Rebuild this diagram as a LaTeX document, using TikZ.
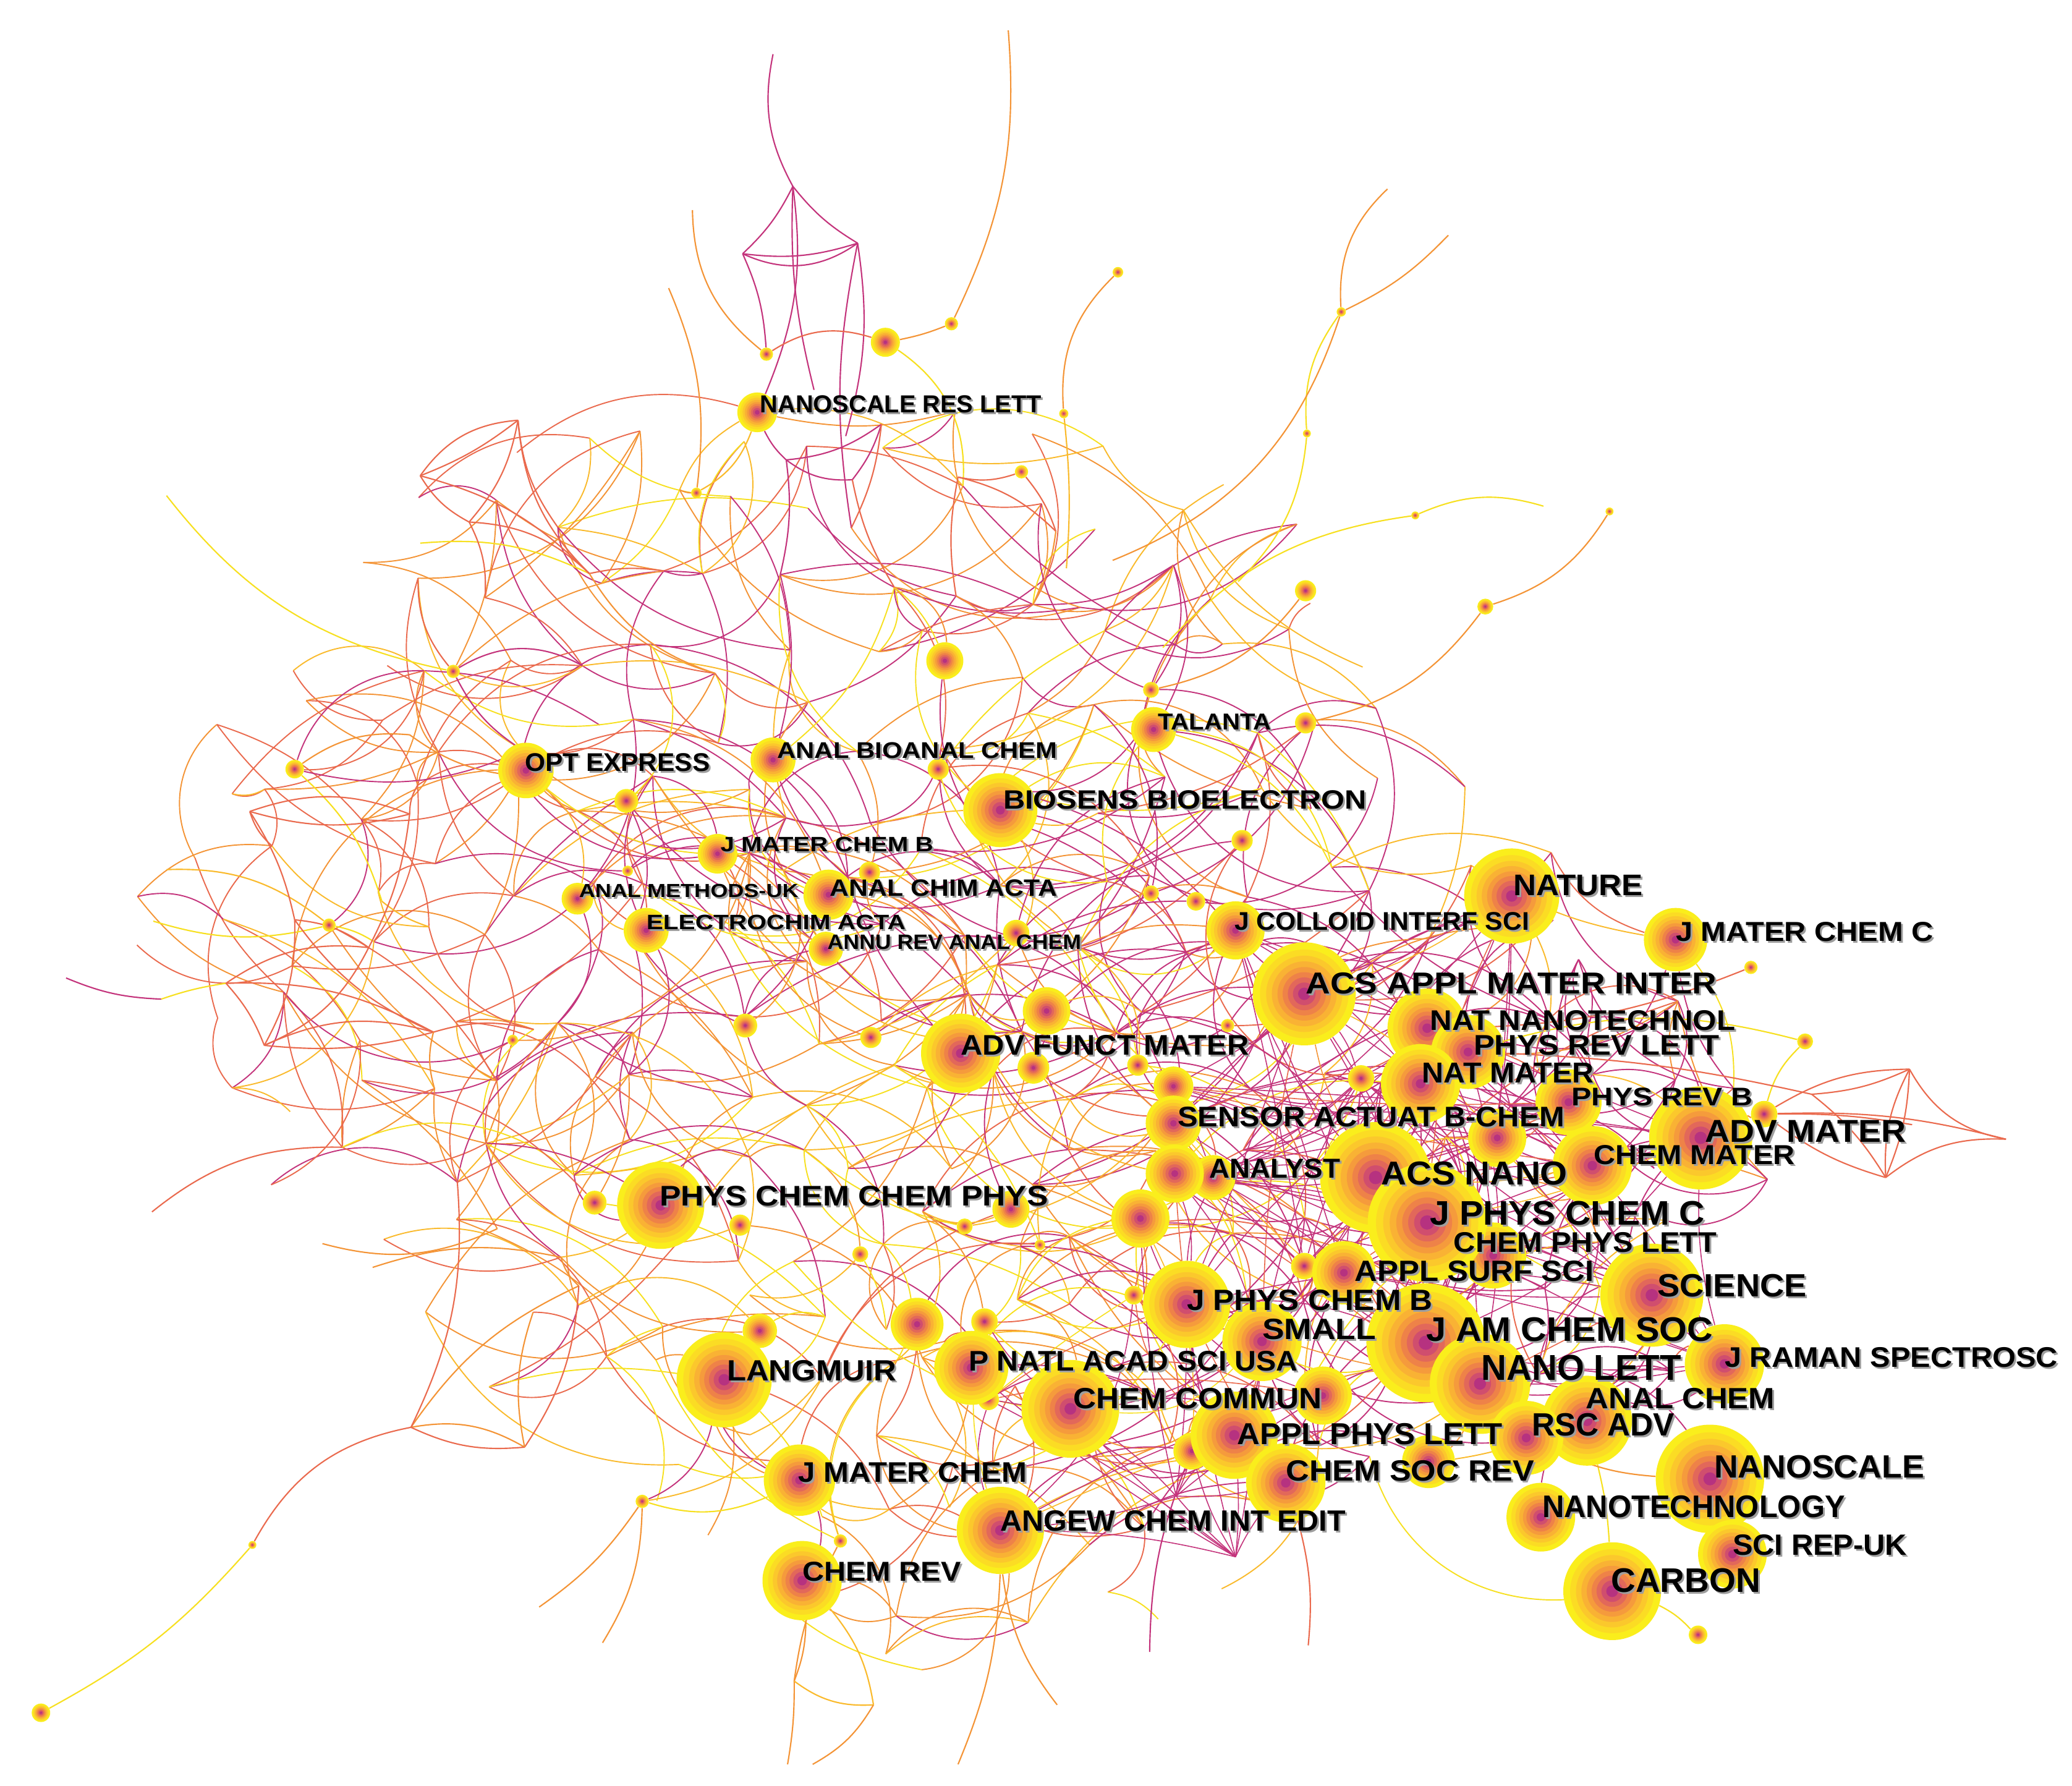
\documentclass[tikz,border=0pt]{standalone}
\usepackage{fontspec}
\setmainfont{Liberation Sans}
\usepackage{graphicx}
\definecolor{e0}{RGB}{196,52,124}
\definecolor{e1}{RGB}{234,106,78}
\definecolor{e2}{RGB}{244,148,54}
\definecolor{e3}{RGB}{250,186,44}
\definecolor{e4}{RGB}{247,224,32}
\definecolor{k0}{RGB}{250,238,28}
\definecolor{k1}{RGB}{251,220,36}
\definecolor{k2}{RGB}{251,200,44}
\definecolor{k3}{RGB}{249,178,52}
\definecolor{k4}{RGB}{245,155,60}
\definecolor{k5}{RGB}{238,130,72}
\definecolor{k6}{RGB}{226,104,90}
\definecolor{k7}{RGB}{208,78,110}
\definecolor{k8}{RGB}{182,50,128}
\def\cminarr{{5,4,3,2,1,1,0,0,1,1,2,3,4,5,6,7,8,9}}
\def\cmaxarr{{13,16,17,17,17,18,19,20,21,22,22,21,21,21,17,16,15,12}}
\def\thrA{{10,8,45,12,65}}
\def\thrB{{35,60,57,30,77}}
\def\thrC{{65,85,77,60,87}}
\def\thrD{{85,93,88,80,93}}
\newcommand\zoneof[2]{%
  \pgfmathtruncatemacro\zxx{110+55*(#2)}%
  \pgfmathtruncatemacro\zyy{330+55*(#1)}%
  \pgfmathtruncatemacro\zn{((\zxx>930)&&(\zyy>640)&&(\zyy<1130)) ? 4 : ((\zyy<430) ? 0 : ((\zxx<420) ? 1 : ((\zyy<780) ? 2 : 3)))}%
}
\newcommand\gridedges[4]{%
  \zoneof{#2}{#3}%
  \foreach \kk in {1,...,#4}{%
    \pgfmathrandominteger{\drr}{-2}{2}%
    \pgfmathrandominteger{\dcc}{-3}{3}%
    \pgfmathtruncatemacro\rrt{(#2)+(\drr)}%
    \pgfmathtruncatemacro\cct{(#3)+(\dcc)}%
    \pgfmathtruncatemacro\rrc{min(max(\rrt,0),17)}%
    \pgfmathtruncatemacro\cmn{\cminarr[\rrc]}%
    \pgfmathtruncatemacro\cmx{\cmaxarr[\rrc]}%
    \pgfmathtruncatemacro\okk{((\rrt==\rrc)&&(\cct>=\cmn)&&(\cct<=\cmx)&&((\drr!=0)||(\dcc!=0)))?1:0}%
    \ifnum\okk=1
      \pgfmathrandominteger{\bnd}{12}{42}%
      \pgfmathrandominteger{\sgn}{0}{1}%
      \ifnum\sgn=1 \edef\bnd{-\bnd}\fi
      \pgfmathrandominteger{\crand}{1}{100}%
      \pgfmathtruncatemacro\ci{(\crand>\thrA[\zn])+(\crand>\thrB[\zn])+(\crand>\thrC[\zn])+(\crand>\thrD[\zn])}%
      \draw[lnk,e\ci] (#1) to[bend left=\bnd] (g-\rrt-\cct);%
    \fi
  }%
}
\def\bignodes{%
NRL/573/312/15,TAL/873/552/17,OPT/398/583/21,ABC/585/575/17,BIO/757/613/28,%
JMCB/543/646/15,AMU/437/680/12,ACA/627/677/19,ELA/489/704/17,ARAC/625/718/13,%
JCIS/935/704/22,NAT/1144/678/36,JMCC/1268/711/24,AAMI/987/752/39,NNT/1080/778/30,%
PRL/1111/796/28,AFM/727/797/30,NMAT/1075/820/30,PRB/1187/834/25,SAB/888/850/21,%
ADVM/1287/861/39,CMAT/1205/882/30,ANLY/889/888/22,ACSN/1041/891/42,PCCP/500/912/33,%
JPCC/1080/925/45,APSS/1017/963/24,SCI/1250/980/39,JPCB/898/987/33,SMALL/955/1015/30,%
JACS/1079/1016/45,LANG/548/1044/36,PNAS/735/1035/28,NL/1120/1047/38,JRS/1305/1032/30,%
CC/810/1066/37,ACH/1201/1075/34,RSC/1155/1088/28,APL/934/1086/33,NS/1294/1119/41,%
JMC/605/1120/27,CSR/973/1122/30,NT/1166/1148/26,ACIE/757/1158/33,SRU/1311/1176/26,%
CR/607/1196/30,CARB/1220/1204/37%
}
\def\webdots{%
d5/343/508/5,d6/223/582/7,d7/474/606/9,d8/715/500/14,d12/871/522/6,%
d21/486/1136/5,d22/636/1166/5,d27/450/910/9,d28/560/927/8,d29/651/949/6,%
d30/730/928/6,d31/765/915/14,d32/787/942/4,d33/575/1007/13,d34/694/1002/20,%
d35/745/1000/10,d36/748/1059/8,d37/863/922/22,d38/858/980/7,d39/1001/1056/22,%
d40/902/1098/14,d41/1081/1106/20,d42/1030/816/10,d43/888/822/15,d44/861/806/8,%
d45/782/808/12,d46/792/765/18,d47/659/785/8,d48/564/776/9,d49/710/582/8,%
d50/940/636/8,d51/658/660/8,d52/871/676/6,d53/905/682/7,d54/769/706/10,%
d55/929/776/5,d56/249/700/5,d57/475/659/4,d58/388/787/4,d59/1133/861/22,%
d60/987/958/10,d61/918/891/17,d63/1130/950/25%
}
\def\perdots{%
d1/670/259/11,d2/720/245/5,d3/580/268/5,d4/527/373/4,d9/988/447/8,%
d10/1124/459/6,d11/988/547/8,d13/846/206/4,d14/805/313/3.5,d15/1015/236/3.5,%
d16/989/328/3,d17/1071/390/3,d18/1218/387/3,d19/31/1296/7,d20/191/1169/3,%
d23/1285/1237/7,d24/1366/788/6,d25/1325/732/5,d26/1335/843/10,d62/773/357/5%
}
\def\labels{%
NANOSCALE RES LETT/575/306/213/13,%
TALANTA/876/546/86/12,%
OPT EXPRESS/397/577/140/13.5,%
ANAL BIOANAL CHEM/588/568/212/12,%
BIOSENS BIOELECTRON/759/605/275/14,%
J MATER CHEM B/545/639/161/11,%
ANAL METHODS-UK/438/674/166/10,%
ANAL CHIM ACTA/628/672/172/12.5,%
ELECTROCHIM ACTA/489/698/196/11,%
ANNU REV ANAL CHEM/626/713/192/11,%
J COLLOID INTERF SCI/934/697/223/13.5,%
NATURE/1145/670/98/15.5,%
J MATER CHEM C/1268/705/195/14.5,%
ACS APPL MATER INTER/988/744/311/16,%
NAT NANOTECHNOL/1082/772/231/15,%
PHYS REV LETT/1115/791/186/15,%
ADV FUNCT MATER/727/791/218/15,%
NAT MATER/1076/812/130/15,%
PHYS REV B/1189/830/137/13.5,%
SENSOR ACTUAT B-CHEM/891/845/293/15,%
ADV MATER/1290/856/152/16.5,%
CHEM MATER/1206/874/152/14.5,%
ANALYST/915/884/99/14.5,%
ACS NANO/1045/888/141/17.5,%
PHYS CHEM CHEM PHYS/499/905/294/15,%
J PHYS CHEM C/1082/918/208/18,%
CHEM PHYS LETT/1100/940/199/15,%
APPL SURF SCI/1025/962/181/15.5,%
SCIENCE/1254/973/113/17,%
J PHYS CHEM B/898/984/186/15.5,%
SMALL/955/1006/86/15.5,%
J AM CHEM SOC/1079/1006/217/18,%
LANGMUIR/550/1037/128/15.5,%
P NATL ACAD SCI USA/733/1030/249/15,%
NANO LETT/1121/1035/151/19,%
J RAMAN SPECTROSC/1305/1027/252/15,%
CHEM COMMUN/812/1058/188/15.5,%
ANAL CHEM/1200/1058/143/15.5,%
RSC ADV/1159/1078/108/17,%
APPL PHYS LETT/936/1085/201/16,%
NANOSCALE/1297/1110/159/17,%
J MATER CHEM/604/1114/173/15,%
CHEM SOC REV/973/1113/188/15.5,%
NANOTECHNOLOGY/1167/1140/229/16.5,%
ANGEW CHEM INT EDIT/757/1151/261/15.5,%
SCI REP-UK/1311/1169/132/15.5,%
CHEM REV/607/1189/120/14.5,%
CARBON/1219/1196/113/18%
}
\def\rmesh{NAT,AAMI,NNT,PRL,NMAT,PRB,SAB,ADVM,CMAT,ANLY,ACSN,JPCC,APSS,SCI,JPCB,SMALL,JACS,NL,d42,d59,JCIS,d63,JRS,d61,d60,d43}
\def\lmesh{CC,ACIE,APL,CSR,d40,PNAS,SMALL,JPCB,d39,d37,d38,d36,d35,d34}
\tikzset{
  lnk/.style={line width=0.9pt},
  tnd/.style={line width=1pt},
  msh/.style={line width=0.75pt},
  pt/.style={circle,inner sep=0pt,draw=none}
}
\begin{document}
\begin{tikzpicture}[x=1pt,y=-1pt]
\useasboundingbox (0,0) rectangle (1568,1351);
\fill[white] (0,0) rectangle (1568,1351);
\pgfmathsetseed{4242}
% ---------- invisible node shapes
\foreach \nm/\nx/\ny/\nr in \bignodes {\node[pt,minimum size={2*\nr}] (\nm) at (\nx,\ny) {};}
\foreach \nm/\nx/\ny/\nr in \webdots {\node[pt,minimum size={2*\nr}] (\nm) at (\nx,\ny) {};}
\foreach \nm/\nx/\ny/\nr in \perdots {\node[pt,minimum size={2*\nr}] (\nm) at (\nx,\ny) {};}
% ---------- web grid points
\foreach \gr in {0,...,17}{%
  \pgfmathtruncatemacro\cmnA{\cminarr[\gr]}%
  \pgfmathtruncatemacro\cmxA{\cmaxarr[\gr]}%
  \foreach \gc in {\cmnA,...,\cmxA}{%
    \pgfmathsetmacro\jx{110+55*\gc+20*rand}%
    \pgfmathsetmacro\jy{330+55*\gr+20*rand}%
    \coordinate (g-\gr-\gc) at (\jx,\jy);
  }%
}
% free ends and fan vertices
\coordinate (tA) at (585,41);  \coordinate (fA1) at (600,141);
\coordinate (fA2) at (562,192); \coordinate (fA3) at (649,184);
\coordinate (tA3) at (616,295); \coordinate (tA4) at (640,330);
\coordinate (tB) at (763,23);  \coordinate (tC) at (524,159);
\coordinate (tD) at (506,218); \coordinate (tE) at (1050,143);
\coordinate (tF) at (1096,178); \coordinate (tG) at (842,424);
\coordinate (tG2) at (937,440); \coordinate (tH) at (1168,383);
\coordinate (tH2) at (880,490); \coordinate (tS1) at (807,430);
\coordinate (tI) at (126,375); \coordinate (tJ) at (318,411);
\coordinate (fL1) at (318,360); \coordinate (fL2) at (392,318);
\coordinate (fL3) at (355,395); \coordinate (fL4) at (446,434);
\coordinate (fL6) at (310,556); \coordinate (tD6) at (289,682);
\coordinate (tK) at (50,740);  \coordinate (tK2) at (122,756);
\coordinate (tL) at (116,697); \coordinate (tM) at (126,658);
\coordinate (fM1) at (200,791); \coordinate (fM2) at (171,744);
\coordinate (fM3) at (328,781); \coordinate (fM4) at (223,696);
\coordinate (fM5) at (279,717); \coordinate (fM6) at (189,614);
\coordinate (fM7) at (310,616); \coordinate (fB1) at (311,1080);
\coordinate (fB2) at (397,1095); \coordinate (fB3) at (438,973);
\coordinate (tO1) at (115,917); \coordinate (tO2) at (244,941);
\coordinate (tO3) at (282,959); \coordinate (tP) at (408,1216);
\coordinate (tQ) at (456,1243); \coordinate (tR1) at (596,1335);
\coordinate (tR2) at (615,1335); \coordinate (tR3) at (725,1335);
\coordinate (fR1) at (601,1272); \coordinate (fR2) at (661,1290);
\coordinate (fRa) at (1445,809); \coordinate (fRb) at (1518,862);
\coordinate (fRc) at (1427,891); \coordinate (fRd) at (1447,851);
\coordinate (fRe) at (1371,828); \coordinate (fP1) at (667,321);
\coordinate (fP2) at (595,348); \coordinate (fP3) at (645,363);
\coordinate (fQ1) at (725,361); \coordinate (fQ3) at (799,402);
\coordinate (tU1) at (870,1250); \coordinate (tU2) at (990,1245);
\coordinate (tU3) at (800,1290);
\coordinate (hV) at (935,1178); \coordinate (hW) at (890,1132);
% ---------- random web
\foreach \gr in {0,...,17}{%
  \pgfmathtruncatemacro\cmnA{\cminarr[\gr]}%
  \pgfmathtruncatemacro\cmxA{\cmaxarr[\gr]}%
  \foreach \gc in {\cmnA,...,\cmxA}{%
    \pgfmathtruncatemacro\xx{110+55*\gc}%
    \pgfmathtruncatemacro\yy{330+55*\gr}%
    \pgfmathtruncatemacro\core{(((\xx>=330)&&(\xx<=950)&&(\yy>=430)&&(\yy<=960))||((\xx>930)&&(\yy>640)&&(\yy<1080)))?1:0}%
    \pgfmathtruncatemacro\lft{((\xx<330)&&(\yy>=540)&&(\yy<=960))?1:0}%
    \pgfmathrandominteger{\extra}{0}{1}%
    \pgfmathrandominteger{\extrb}{0}{1}%
    \pgfmathtruncatemacro\nedge{1+\core+\lft+\extra+\core*\extrb}%
    \gridedges{g-\gr-\gc}{\gr}{\gc}{\nedge}%
  }%
}
\foreach \nm/\nx/\ny/\nr in \bignodes {%
  \pgfmathtruncatemacro\rzero{min(max(round((\ny-330)/55),0),17)}%
  \pgfmathtruncatemacro\czero{round((\nx-110)/55)}%
  \gridedges{\nm}{\rzero}{\czero}{5}%
}
\foreach \nm/\nx/\ny/\nr in \webdots {%
  \pgfmathtruncatemacro\rzero{min(max(round((\ny-330)/55),0),17)}%
  \pgfmathtruncatemacro\czero{round((\nx-110)/55)}%
  \gridedges{\nm}{\rzero}{\czero}{3}%
}
% ---------- right cluster mesh
\foreach \ma [count=\ia] in \rmesh {%
  \foreach \mb [count=\ib] in \rmesh {%
    \ifnum\ia<\ib
      \pgfmathrandominteger{\pr}{1}{100}%
      \ifnum\pr<38
        \pgfmathrandominteger{\bnd}{-12}{12}%
        \pgfmathrandominteger{\crand}{1}{100}%
        \pgfmathtruncatemacro\ci{(\crand>80)+(\crand>88)+(\crand>94)}%
        \draw[msh,e\ci] (\ma) to[bend left=\bnd] (\mb);
      \fi
    \fi
  }%
}
\foreach \ma [count=\ia] in \lmesh {%
  \foreach \mb [count=\ib] in \lmesh {%
    \ifnum\ia<\ib
      \pgfmathrandominteger{\pr}{1}{100}%
      \ifnum\pr<22
        \pgfmathrandominteger{\bnd}{-25}{25}%
        \pgfmathrandominteger{\crand}{1}{100}%
        \pgfmathtruncatemacro\ci{(\crand>50)+(\crand>65)+(\crand>82)+(\crand>92)}%
        \draw[msh,e\ci] (\ma) to[bend left=\bnd] (\mb);
      \fi
    \fi
  }%
}
\foreach \tg/\bd in {CC/6,APL/-4,d40/8,CSR/5,ACIE/-6,hW/4,SMALL/-3,PNAS/5,d36/-5,JPCB/3}
  {\draw[msh,e0] (hV) to[bend left=\bd] (\tg);}
\foreach \tg/\bd in {CC/-5,APL/6,d40/-4,CSR/-6,ACIE/5,d39/4,JPCB/-3,d37/5}
  {\draw[msh,e0] (hW) to[bend left=\bd] (\tg);}
% ---------- tendrils and fans
\draw[tnd,e0] (tA) to[bend left=-20] (fA1);
\draw[tnd,e0] (fA1) to[bend left=10] (fA2);
\draw[tnd,e0] (fA1) to[bend left=-10] (fA3);
\draw[tnd,e0] (fA2) to[bend left=-12] (fA3);
\draw[tnd,e0] (fA2) to[bend left=-30] (fA3);
\draw[tnd,e0] (fA2) to[bend left=10] (d3);
\draw[tnd,e0] (fA1) to[bend left=-8] (tA3);
\draw[tnd,e0] (fA3) to[bend left=12] (tA4);
\draw[tnd,e0] (fA3) to[bend left=-10] (g-1-10);
\draw[tnd,e0] (fA1) to[bend left=15] (NRL);
\draw[tnd,e2] (tB) to[bend left=15] (d2);
\draw[tnd,e2] (tC) to[bend left=-25] (d3);
\draw[tnd,e2] (tD) to[bend left=15] (d4);
\draw[tnd,e2] (d13) to[bend left=-25] (d14);
\draw[tnd,e3] (d14) to[bend left=5] (tS1);
\draw[tnd,e2] (tE) to[bend left=-25] (d15);
\draw[tnd,e2] (tF) to[bend left=10] (d15);
\draw[tnd,e4] (d15) to[bend left=-20] (d16);
\draw[tnd,e2] (d15) to[bend left=25] (tG);
\draw[tnd,e4] (d16) to[bend left=20] (tG2);
\draw[tnd,e4] (tH) to[bend left=-20] (d17);
\draw[tnd,e4] (d17) to[bend left=-20] (tH2);
\draw[tnd,e2] (d18) to[bend left=20] (d10);
\draw[tnd,e2] (d10) to[bend left=20] (d11);
\draw[tnd,e2] (d9) to[bend left=20] (d12);
\draw[tnd,e1] (d3) to[bend left=25] (d1);
\draw[tnd,e2] (d2) to[bend left=5] (d1);
\draw[tnd,e4] (d1) to[bend left=30] (g-1-11);
\draw[tnd,e3] (NRL) to[bend left=20] (d4);
\draw[tnd,e2] (d4) to[bend left=10] (g-1-7);
\draw[tnd,e0] (fP1) to[bend left=15] (fP2);
\draw[tnd,e0] (fP2) to[bend left=-20] (fP3);
\draw[tnd,e0] (fP1) to[bend left=10] (fP3);
\draw[tnd,e0] (fP2) to[bend left=10] (g-2-9);
\draw[tnd,e1] (fP3) to[bend left=-10] (g-2-10);
\draw[tnd,e1] (fP1) to[bend left=10] (g-1-10);
\draw[tnd,e0] (NRL) to[bend left=-10] (fP2);
\draw[tnd,e1] (fQ1) to[bend left=-15] (d62);
\draw[tnd,e1] (fQ1) to[bend left=15] (fQ3);
\draw[tnd,e1] (d62) to[bend left=10] (fQ3);
\draw[tnd,e1] (fQ1) to[bend left=-10] (g-2-11);
\draw[tnd,e2] (fQ3) to[bend left=10] (g-2-12);
\draw[tnd,e4] (tI) to[bend left=-20] (d5);
\draw[tnd,e4] (tJ) to[bend left=15] (fL4);
\draw[tnd,e1] (fL1) to[bend left=25] (fL2);
\draw[tnd,e1] (fL1) to[bend left=-8] (fL2);
\draw[tnd,e1] (fL2) to[bend left=15] (fL3);
\draw[tnd,e1] (fL1) to[bend left=-15] (fL3);
\draw[tnd,e1] (fL3) to[bend left=20] (fL4);
\draw[tnd,e1] (fL2) to[bend left=-20] (fL4);
\draw[tnd,e1] (fL1) to[bend left=15] (fL4);
\draw[tnd,e1] (fL4) to[bend left=10] (g-2-7);
\draw[tnd,e1] (fL2) to[bend left=-15] (g-1-6);
\draw[tnd,e1] (fL3) to[bend left=15] (g-2-5);
\draw[tnd,e2] (fL4) to[bend left=-20] (g-3-8);
\draw[tnd,e0] (d5) to[bend left=30] (g-3-6);
\draw[tnd,e0] (d5) to[bend left=-15] (g-4-5);
\draw[tnd,e1] (d5) to[bend left=20] (g-2-4);
\draw[tnd,e2] (d6) to[bend left=20] (fL6);
\draw[tnd,e2] (fL6) to[bend left=-15] (g-5-5);
\draw[tnd,e4] (d6) to[bend left=15] (tD6);
\draw[tnd,e3] (tD6) to[bend left=-10] (g-7-4);
\draw[tnd,e0] (tK) to[bend left=-10] (tK2);
\draw[tnd,e4] (tK2) to[bend left=5] (fM2);
\draw[tnd,e4] (tL) to[bend left=-15] (d56);
\draw[tnd,e3] (tM) to[bend left=20] (d56);
\draw[tnd,e4] (d56) to[bend left=10] (g-7-3);
\draw[tnd,e1] (fM2) to[bend left=10] (fM1);
\draw[tnd,e1] (fM1) to[bend left=20] (fM3);
\draw[tnd,e1] (fM1) to[bend left=-10] (fM3);
\draw[tnd,e1] (fM2) to[bend left=15] (fM3);
\draw[tnd,e1] (fM4) to[bend left=15] (fM1);
\draw[tnd,e1] (fM4) to[bend left=-15] (fM3);
\draw[tnd,e1] (fM5) to[bend left=20] (fM1);
\draw[tnd,e1] (fM5) to[bend left=-20] (fM2);
\draw[tnd,e1] (fM4) to[bend left=15] (fM5);
\draw[tnd,e1] (fM6) to[bend left=20] (fM7);
\draw[tnd,e1] (fM6) to[bend left=-15] (fM7);
\draw[tnd,e1] (fM6) to[bend left=10] (fM4);
\draw[tnd,e1] (fM7) to[bend left=10] (fM5);
\draw[tnd,e1] (fM3) to[bend left=15] (g-8-5);
\draw[tnd,e2] (fM3) to[bend left=-15] (g-9-4);
\draw[tnd,e1] (fM7) to[bend left=15] (g-5-4);
\draw[tnd,e1] (fM6) to[bend left=-15] (g-6-2);
\draw[tnd,e4] (d19) to[bend left=-10] (d20);
\draw[tnd,e1] (d20) to[bend left=25] (fB1);
\draw[tnd,e2] (fB1) to[bend left=20] (fB2);
\draw[tnd,e1] (fB1) to[bend left=-15] (fB2);
\draw[tnd,e2] (fB1) to[bend left=15] (fB3);
\draw[tnd,e1] (fB2) to[bend left=-15] (fB3);
\draw[tnd,e2] (fB3) to[bend left=15] (g-11-6);
\draw[tnd,e1] (fB1) to[bend left=-15] (g-10-4);
\draw[tnd,e2] (fB2) to[bend left=15] (g-12-5);
\draw[tnd,e1] (tO1) to[bend left=20] (g-10-3);
\draw[tnd,e2] (tO2) to[bend left=-20] (g-11-5);
\draw[tnd,e2] (tO3) to[bend left=15] (g-11-6);
\draw[tnd,e2] (d21) to[bend left=10] (tP);
\draw[tnd,e2] (d21) to[bend left=15] (tQ);
\draw[tnd,e4] (d21) to[bend left=-20] (JMC);
\draw[tnd,e2] (CR) to[bend left=10] (fR1);
\draw[tnd,e2] (fR1) to[bend left=5] (tR1);
\draw[tnd,e3] (fR1) to[bend left=-20] (fR2);
\draw[tnd,e2] (fR2) to[bend left=15] (tR2);
\draw[tnd,e2] (ACIE) to[bend left=10] (tR3);
\draw[tnd,e3] (CR) to[bend left=15] (fR2);
\draw[tnd,e2] (d22) to[bend left=-10] (fR1);
\draw[tnd,e1] (CSR) to[bend left=10] (tU2);
\draw[tnd,e0] (d40) to[bend left=-10] (tU1);
\draw[tnd,e2] (ACIE) to[bend left=-15] (tU3);
\draw[tnd,e1] (NNT) to[bend left=-10] (d25);
\draw[tnd,e4] (d24) to[bend left=-15] (d26);
\draw[tnd,e4] (d24) to[bend left=-15] (PRL);
\draw[tnd,e1] (PRL) to[bend left=5] (fRe);
\draw[tnd,e1] (d26) to[bend left=15] (fRa);
\draw[tnd,e1] (d26) to[bend left=5] (fRd);
\draw[tnd,e1] (d26) to[bend left=8] (fRb);
\draw[tnd,e1] (fRa) to[bend left=-25] (fRb);
\draw[tnd,e1] (fRc) to[bend left=20] (fRb);
\draw[tnd,e1] (fRa) to[bend left=10] (fRc);
\draw[tnd,e1] (fRa) to[bend left=-15] (fRc);
\draw[tnd,e1] (fRe) to[bend left=10] (fRc);
\draw[tnd,e1] (fRe) to[bend left=-10] (fRa);
\draw[tnd,e1] (d26) to[bend left=-10] (fRc);
\draw[tnd,e2] (ADVM) to[bend left=5] (d26);
\draw[tnd,e4] (CARB) to[bend left=10] (d23);
\draw[tnd,e4] (ACH) to[bend left=5] (CARB);
\draw[tnd,e2] (NS) to[bend left=10] (RSC);
% ---------- node discs
\foreach \nm/\nx/\ny/\nr in \perdots {%
  \foreach \fr/\kc in {1/k0,0.86/k1,0.74/k2,0.63/k3,0.52/k4,0.42/k5,0.32/k6,0.22/k7,0.12/k8}%
    {\fill[\kc] (\nm) circle[radius={\fr*\nr}];}%
}
\foreach \nm/\nx/\ny/\nr in \webdots {%
  \foreach \fr/\kc in {1/k0,0.86/k1,0.74/k2,0.63/k3,0.52/k4,0.42/k5,0.32/k6,0.22/k7,0.12/k8}%
    {\fill[\kc] (\nm) circle[radius={\fr*\nr}];}%
}
\foreach \nm/\nx/\ny/\nr in \bignodes {%
  \foreach \fr/\kc in {1/k0,0.86/k1,0.74/k2,0.63/k3,0.52/k4,0.42/k5,0.32/k6,0.22/k7,0.12/k8}%
    {\fill[\kc] (\nm) circle[radius={\fr*\nr}];}%
}
% ---------- labels
\foreach \txt/\lx/\ly/\lw/\lh in \labels {%
  \node[anchor=west,inner sep=0pt,text=black!38] (shd-\lx-\ly) at (\lx+1.4,\ly+1.4) {\resizebox{\lw pt}{\lh pt}{\bfseries\txt}};
  \node[anchor=west,inner sep=0pt,text=black] (lbl-\lx-\ly) at (\lx,\ly) {\resizebox{\lw pt}{\lh pt}{\bfseries\txt}};
}
\end{tikzpicture}
\end{document}
